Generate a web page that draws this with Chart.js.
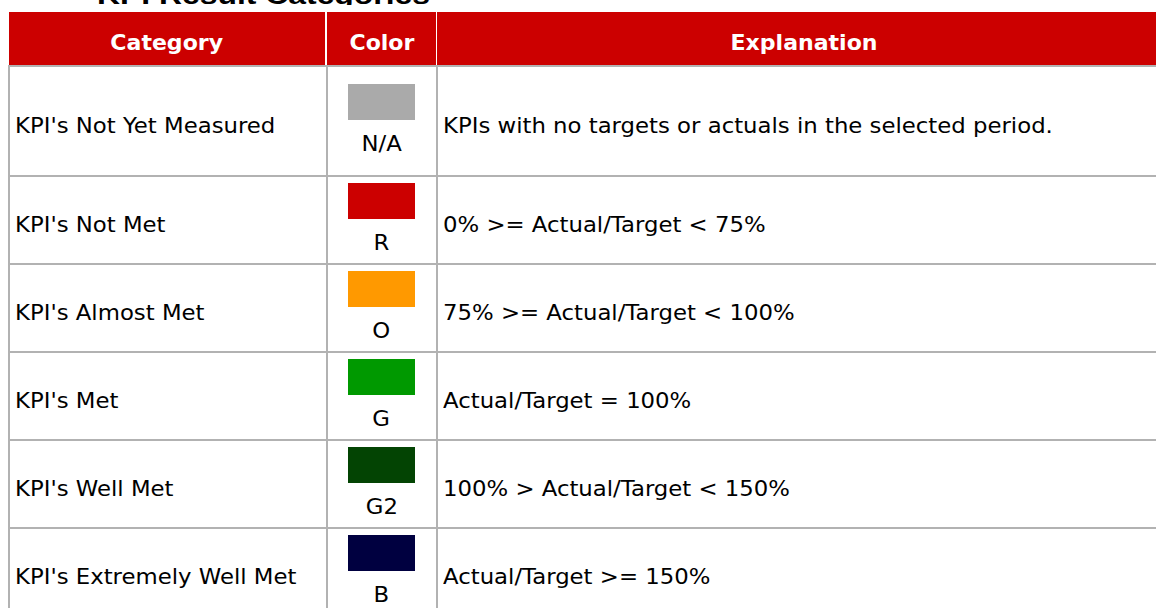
<!DOCTYPE html>
<html><head><meta charset="utf-8">
<script src="https://cdn.jsdelivr.net/npm/chart.js@4"></script>
<style>
html,body{margin:0;padding:0;background:#fff;}
body{width:1156px;height:608px;overflow:hidden;position:relative;font-family:"DejaVu Sans",Verdana,sans-serif;}
.titleclip{position:absolute;left:0;top:0;width:1156px;height:5px;overflow:hidden;}
.title{position:absolute;left:97px;top:-20px;font:bold 26px/30px "Liberation Sans",Arial,sans-serif;color:#000;white-space:nowrap;transform:scaleX(1.226);transform-origin:left center;}
.hcell{position:absolute;top:12px;height:53px;background:#cc0000;color:#fff;display:flex;align-items:center;justify-content:center;font-weight:bold;font-size:21px;box-sizing:border-box;padding-top:8px;}
.hcell span{display:inline-block;transform:scaleX(1.05);white-space:nowrap;}
.hline{position:absolute;height:2px;background:#b2b2b2;}
.vline{position:absolute;width:2px;background:#b2b2b2;}
.cell{position:absolute;display:flex;align-items:center;box-sizing:border-box;font-size:21px;color:#000;padding-top:10px;padding-left:6px;}
.cell span{display:inline-block;white-space:nowrap;transform:scaleX(1.085);transform-origin:left center;}
.ccell{position:absolute;display:flex;flex-direction:column;align-items:center;justify-content:center;}
.ccell canvas{display:block;}
.ccell .lbl{padding-top:10px;line-height:28px;font-size:21px;color:#000;}
.ccell .lbl span{display:inline-block;transform:scaleX(1.085);white-space:nowrap;}
</style></head>
<body>
<div class="titleclip"><div class="title">KPI Result Categories</div></div>
<div id="root"></div>
<script>
// ---- data ----
const headers = ["Category", "Color", "Explanation"];
const categories = [
  "KPI's Not Yet Measured",
  "KPI's Not Met",
  "KPI's Almost Met",
  "KPI's Met",
  "KPI's Well Met",
  "KPI's Extremely Well Met"
];
const colorCodes = ["N/A", "R", "O", "G", "G2", "B"];
const swatchColors = ["#aaaaaa", "#cc0000", "#ff9900", "#009900", "#034403", "#000040"];
const swatchValues = [1, 1, 1, 1, 1, 1];
const explanations = [
  "KPIs with no targets or actuals in the selected period.",
  "0% >= Actual/Target < 75%",
  "75% >= Actual/Target < 100%",
  "Actual/Target = 100%",
  "100% > Actual/Target < 150%",
  "Actual/Target >= 150%"
];

// ---- layout ----
const root = document.getElementById('root');
function el(cls, style) {
  const d = document.createElement('div');
  d.className = cls;
  Object.assign(d.style, style);
  root.appendChild(d);
  return d;
}

const headCols = [[9, 325], [327, 436], [437, 1172]];
headers.forEach((h, i) => {
  const [a, b] = headCols[i];
  const d = el('hcell', {left: a + 'px', width: (b - a) + 'px'});
  const s = document.createElement('span'); s.textContent = h; d.appendChild(s);
});

const firstRowH = 109, rowH = 87, headBottom = 65;
const rowTops = [];
let y = headBottom + 1;
categories.forEach((c, i) => { rowTops.push(y); y += (i === 0 ? firstRowH : rowH) + 1; });

categories.forEach((cat, i) => {
  const top = rowTops[i];
  const h = i === 0 ? firstRowH : rowH;
  const c1 = el('cell', {left: '9px', width: '317px', top: top + 'px', height: h + 'px'});
  const s1 = document.createElement('span'); s1.textContent = cat; c1.appendChild(s1);

  const c3 = el('cell', {left: '437px', width: '735px', top: top + 'px', height: h + 'px'});
  const s3 = document.createElement('span'); s3.textContent = explanations[i]; c3.appendChild(s3);

  const c2 = el('ccell', {left: '327px', width: '109px', top: top + 'px', height: h + 'px'});
  const cv = document.createElement('canvas');
  cv.width = 67; cv.height = 36; cv.style.width = '67px'; cv.style.height = '36px';
  c2.appendChild(cv);
  const lbl = document.createElement('div'); lbl.className = 'lbl';
  const ls = document.createElement('span'); ls.textContent = colorCodes[i]; lbl.appendChild(ls);
  c2.appendChild(lbl);

  new Chart(cv, {
    type: 'bar',
    data: {
      labels: [colorCodes[i]],
      datasets: [{
        data: [swatchValues[i]],
        backgroundColor: swatchColors[i],
        borderWidth: 0,
        barPercentage: 1,
        categoryPercentage: 1
      }]
    },
    options: {
      responsive: false,
      devicePixelRatio: 1,
      animation: false,
      layout: {padding: 0},
      plugins: {legend: {display: false}, tooltip: {enabled: false}},
      events: [],
      scales: {
        x: {display: false},
        y: {display: false, min: 0, max: 1}
      }
    }
  });
});

// grid lines (drawn above cells)
el('hline', {left: '8px', width: '1160px', top: headBottom + 'px'});
rowTops.slice(1).forEach(t => el('hline', {left: '8px', width: '1160px', top: (t - 1.5) + 'px'}));
[7.5, 325.5, 435.5].forEach(x => el('vline', {left: x + 'px', top: headBottom + 'px', height: (608 - headBottom) + 'px'}));
</script>
</body></html>
